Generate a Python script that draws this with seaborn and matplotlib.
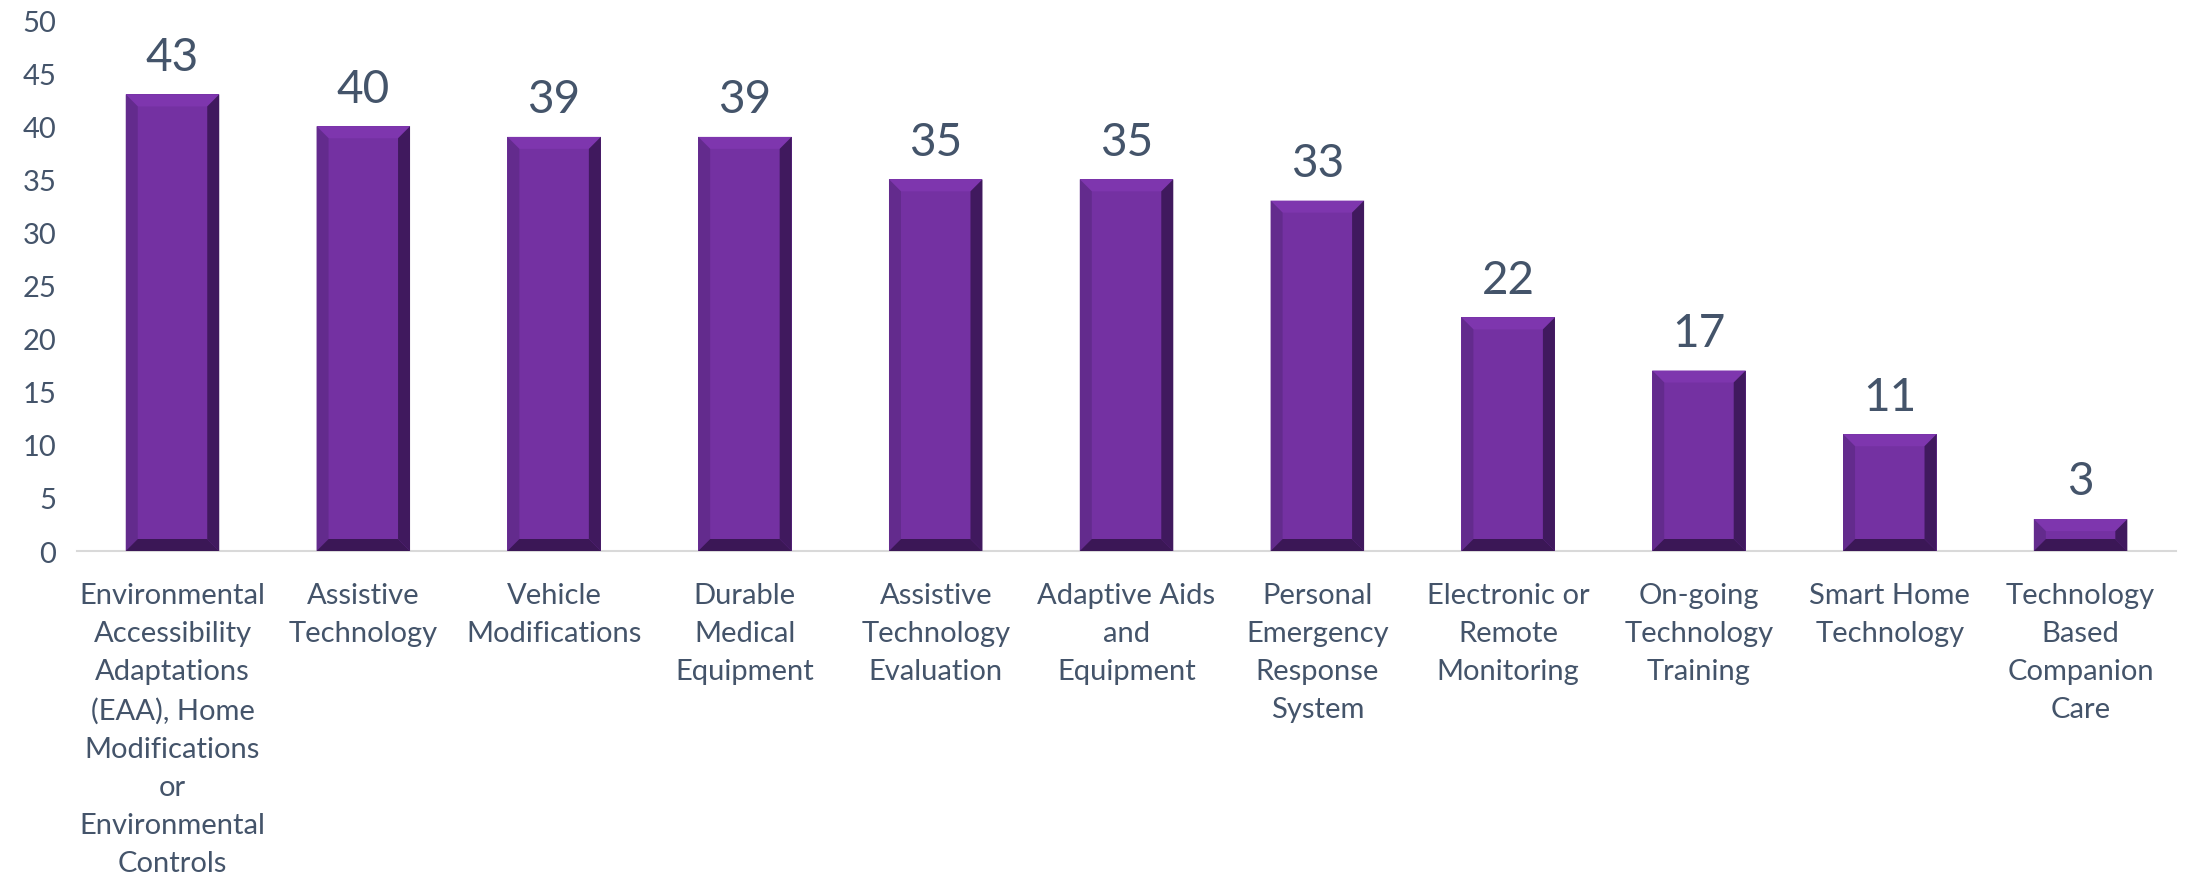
import matplotlib
matplotlib.use("Agg")
import matplotlib.pyplot as plt
from matplotlib.patches import Polygon
import seaborn as sns
import pandas as pd

categories = [
    "Environmental\nAccessibility\nAdaptations\n(EAA), Home\nModifications\nor\nEnvironmental\nControls",
    "Assistive\nTechnology",
    "Vehicle\nModifications",
    "Durable\nMedical\nEquipment",
    "Assistive\nTechnology\nEvaluation",
    "Adaptive Aids\nand\nEquipment",
    "Personal\nEmergency\nResponse\nSystem",
    "Electronic or\nRemote\nMonitoring",
    "On-going\nTechnology\nTraining",
    "Smart Home\nTechnology",
    "Technology\nBased\nCompanion\nCare",
]
counts = [43, 40, 39, 39, 35, 35, 33, 22, 17, 11, 3]
y_ticks = list(range(0, 55, 5))

FACE = "#7431A2"
BEVEL_TOP = "#7E36AE"
BEVEL_LEFT = "#632B8D"
BEVEL_RIGHT = "#40195E"
BEVEL_BOTTOM = "#3B1756"
TEXT = "#44546A"

sns.set_theme(style="white")
plt.rcParams["font.family"] = ["Lato", "DejaVu Sans"]

df = pd.DataFrame({"category": categories, "count": counts})

fig = plt.figure(figsize=(21.9, 8.79), dpi=100)
ax = fig.add_axes([0.0352, 0.372, 0.9584, 0.604])

sns.barplot(data=df, x="category", y="count", color=FACE, saturation=1,
            width=0.49, ax=ax, linewidth=0)

ax.set_ylim(0, 50)
ax.set_xlim(-0.5, len(categories) - 0.5)
ax.set_yticks(y_ticks)
ax.set_xlabel("")
ax.set_ylabel("")
ax.tick_params(axis="y", length=0, pad=15, labelsize=21, labelcolor=TEXT)
ax.tick_params(axis="x", length=0, pad=22, labelsize=21, labelcolor=TEXT)
for lbl in ax.get_xticklabels():
    lbl.set_linespacing(1.58)
    lbl.set_verticalalignment("top")

for side in ["left", "right", "top"]:
    ax.spines[side].set_visible(False)
ax.spines["bottom"].set_color("#D9D9D9")
ax.spines["bottom"].set_linewidth(1.5)
ax.spines["bottom"].set_zorder(0)

# bevel frame around each bar, sized in pixels
fig.canvas.draw()
inv = ax.transData.inverted()
p0 = inv.transform((0, 0))
p1 = inv.transform((12, 12))
bx, by = p1[0] - p0[0], p1[1] - p0[1]

for patch in ax.patches:
    x0 = patch.get_x()
    w = patch.get_width()
    h = patch.get_height()
    x1 = x0 + w
    y0, y1 = 0, h
    dy = min(by, h / 2.5)
    dx = bx
    faces = [
        ([(x0, y1), (x1, y1), (x1 - dx, y1 - dy), (x0 + dx, y1 - dy)], BEVEL_TOP),
        ([(x0, y0), (x0, y1), (x0 + dx, y1 - dy), (x0 + dx, y0 + dy)], BEVEL_LEFT),
        ([(x1, y0), (x1, y1), (x1 - dx, y1 - dy), (x1 - dx, y0 + dy)], BEVEL_RIGHT),
        ([(x0, y0), (x1, y0), (x1 - dx, y0 + dy), (x0 + dx, y0 + dy)], BEVEL_BOTTOM),
    ]
    for pts, col in faces:
        ax.add_patch(Polygon(pts, closed=True, facecolor=col, edgecolor="none", zorder=3))

for container in ax.containers:
    ax.bar_label(container, labels=[f"{v:g}" for v in counts], padding=12,
                 fontsize=33, color=TEXT)

fig.savefig("out.png", dpi=100, facecolor="white")
